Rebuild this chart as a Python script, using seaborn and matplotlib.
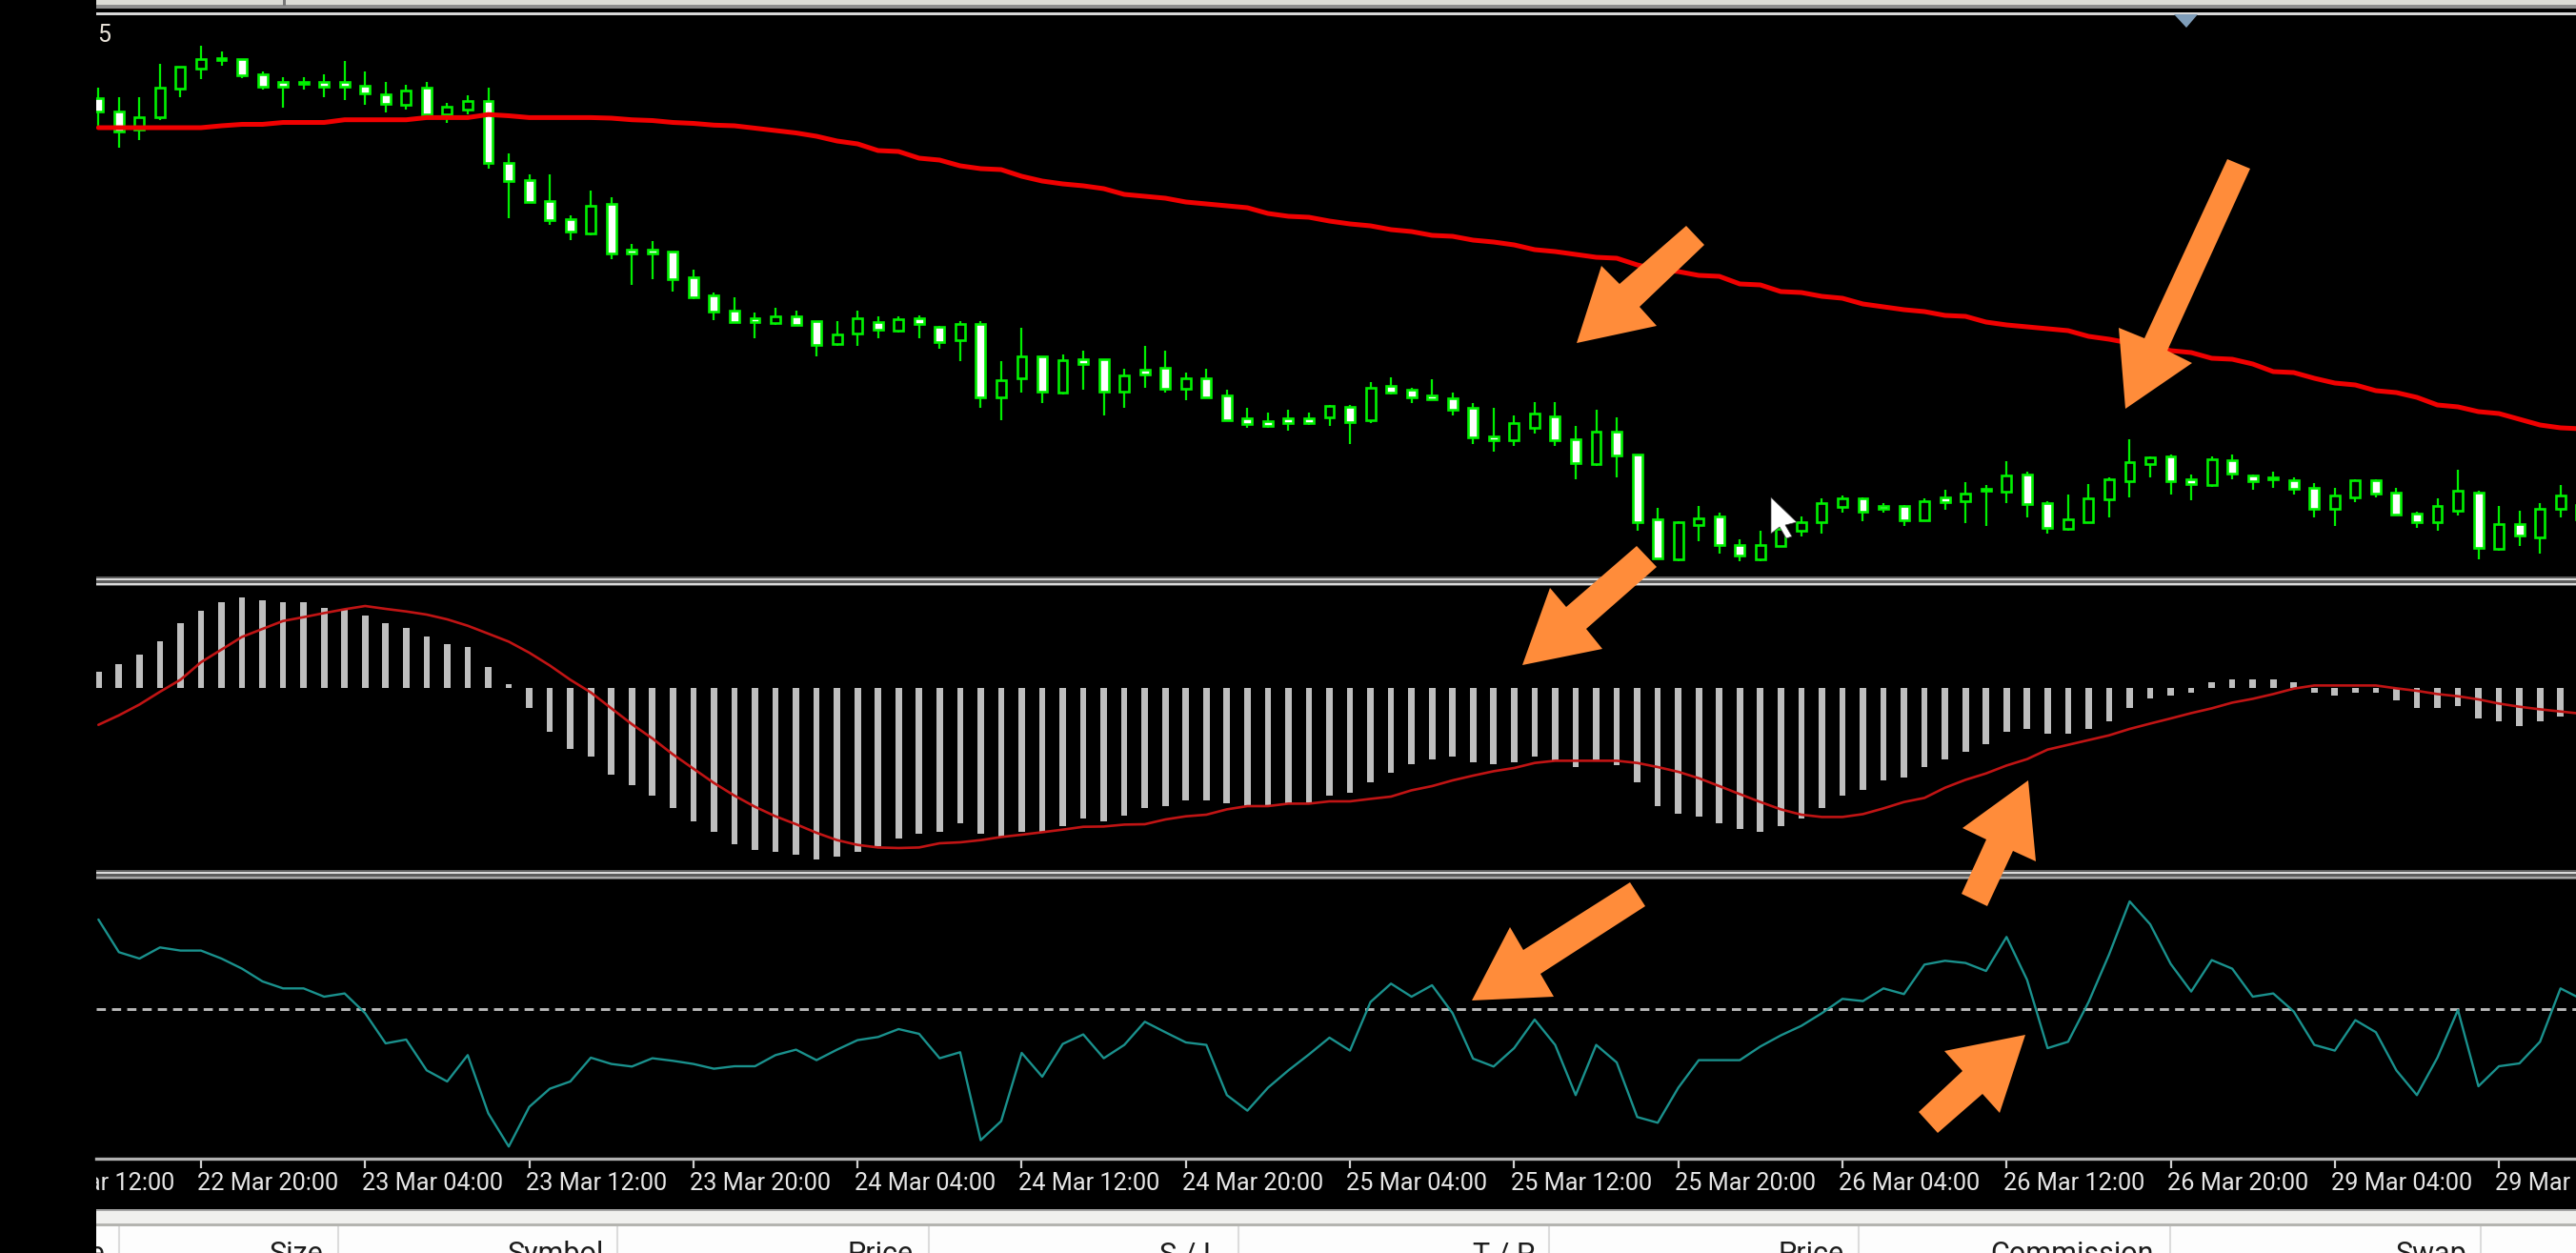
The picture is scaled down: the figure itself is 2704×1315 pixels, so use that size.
import numpy as np
import matplotlib
matplotlib.use("Agg")
import matplotlib.pyplot as plt
from matplotlib.patches import Polygon, Rectangle
import seaborn as sns

sns.set_theme(style="dark")
plt.rcParams["font.family"] = ["Roboto", "DejaVu Sans"]

W, H = 2704, 1315

# ---- price panel values: drop below the panel's reference level
candle_high = [92,102,102,67,70,48,54,62,75,81,81,78,64,75,86,89,86,108,100,92,161,183,183,226,200,207,256,253,264,283,
               307,312,328,323,326,337,337,326,332,332,331,342,337,337,379,344,374,372,368,377,387,363,368,391,387,409,428,433,430,433,
               425,425,401,396,407,398,412,423,428,436,422,422,447,430,438,477,533,547,531,538,566,557,553,542,523,520,522,528,530,523,
               514,506,509,484,495,526,519,508,501,461,479,477,498,479,477,498,495,501,507,512,503,503,512,537,523,493,515,531,536,528,509,520]
candle_top = [103,117,123,92,70,62,61,62,78,86,86,86,86,90,99,95,92,112,106,106,171,189,211,230,216,214,262,262,264,291,
              310,326,334,332,332,337,351,334,338,335,334,343,340,340,399,374,374,378,377,377,394,388,386,397,397,415,439,442,439,439,
              426,427,407,405,409,415,418,428,458,444,434,437,461,453,453,477,545,548,544,542,572,572,555,548,528,523,523,531,531,526,
              522,518,513,499,498,528,545,523,503,485,480,479,503,482,483,499,501,504,512,520,504,504,517,539,531,515,517,550,550,534,520,530]
candle_bottom = [117,138,136,123,93,72,63,79,91,91,88,91,91,98,109,110,120,120,115,171,190,212,231,243,245,266,266,266,293,312,
                 327,338,338,339,341,362,361,350,346,347,340,359,357,417,417,397,411,412,382,411,411,393,408,408,417,441,445,447,444,444,
                 438,443,441,412,417,419,430,459,462,462,449,462,486,487,478,548,586,587,551,572,583,587,573,557,548,532,537,534,546,546,
                 527,526,515,516,529,554,555,548,524,505,487,505,508,509,497,505,503,513,534,534,522,518,540,548,548,536,575,576,562,564,534,545]
candle_low = [132,155,147,126,102,83,69,82,94,113,94,102,105,110,118,115,120,129,120,177,229,212,236,252,247,272,299,293,306,314,
              336,339,355,341,341,374,363,363,355,349,355,366,379,428,441,412,423,414,409,436,428,407,412,420,417,441,449,449,452,446,
              447,466,444,414,423,420,436,466,474,468,455,468,503,489,501,557,586,589,568,581,589,589,573,563,560,538,547,538,552,546,
              535,549,552,528,543,560,557,549,543,522,501,519,525,511,503,514,512,519,543,552,527,522,541,554,557,541,587,578,573,581,543,550]
bullish_candles = [2,3,4,5,15,17,18,24,33,36,37,39,42,44,45,47,50,53,60,62,69,70,73,77,78,81,82,83,84,85,89,91,93,96,97,98,99,100,
                   103,109,110,114,115,117,119,120,121]
moving_average = [134,134,134,134,134,134,132,130.5,130.5,128.5,128.5,128.5,125.7,125.7,125.7,125.7,123.4,123.4,123.4,120.2,
                  121.5,123.4,123.4,123.4,123.4,124,125.7,126.5,128.5,129.5,131.3,132,134.5,137,139.5,143,148,151,158,159,
                  166,168,174,177,178,185,190,193,195,198,204,206,208,212,214,216,218,224,227,228,
                  232,235,237,241,243,247,248,252,254,257,262,264,267,270,271,278,283,285,289,290,
                  298,299,306,307,311,313,319,322,325,327,331,332,338,341,343,345,347,353,356,360,
                  363,368,370,376,377,382,390,391,397,402,404,410,412,417,425,427,432,434,440,446,449,450]

# ---- MACD panel values
macd_bars = [16.7,24.3,35,48.3,67.7,81,89.3,94.3,91.7,89.3,89.3,84,81.7,75.7,67.7,62.3,54,45.7,43,21.7,3.3,
             -21.7,-46,-64.3,-72.7,-91,-102.3,-113.3,-126.7,-140,-151,-164.3,-170,-172.3,-175,-180,-177.7,-172.3,-166.7,-158.3,-153.3,-151,
             -142.7,-153.3,-156.7,-151,-151,-145.7,-137.7,-140,-134.3,-126.7,-124,-118.3,-118.3,-121,-124.3,-125,-121,-121,-113.3,-110.7,
             -99.3,-89,-80.7,-75.7,-72.7,-78.3,-80.7,-78.3,-72.7,-76.7,-83.3,-76.7,-81,-99.3,-124,-132.3,-135,-142.7,-148.3,-151,-145.7,
             -137.7,-126.7,-113.3,-107.7,-97.3,-94.3,-83.3,-75.7,-67.3,-59.3,-46,-43.3,-48.3,-48.3,-43.3,-35,-21.7,-11,-8.3,-5.7,
             5.7,8.3,8.3,8.3,5.7,-5.7,-8.3,-5.7,-5.7,-13.3,-21.7,-21.7,-19,-32.3,-35,-40.7,-35,-30]
macd_signal = [-39,-29,-17.7,-4.3,8.3,26.7,40,53.3,61.7,70,74,78.3,82.3,85.7,82.7,80,76.7,71.7,65,56.7,48.3,36.7,23.3,8.3,-5,
               -21.7,-38.3,-53.3,-70,-85,-100,-113.3,-125,-135,-143.3,-152.3,-160,-165,-167.7,-168.3,-167.7,-163.3,
               -162.3,-160,-156.7,-154.3,-151.7,-149,-146,-145.7,-143.7,-143.3,-138.3,-135,-133.3,-127.7,-124.3,-124.3,-121.7,-121.7,-119.3,-119.3,
               -116.7,-114.3,-107.7,-103.3,-97.3,-92.3,-87.7,-84.3,-79,-76.7,-76.7,-76.7,-76.7,-79,-83.3,-88.3,-95,-103.3,-111.7,-120,-127.7,-133.3,
               -135.7,-135.7,-132.7,-126.7,-120,-115.7,-105,-96.7,-90,-81.7,-75,-65,-60,-55,-50,-43.3,-37.7,-32.3,-26.7,-21.7,-15.7,-11.7,-6.7,-1,
               2.3,2.3,2.3,2.3,-0.7,-3.3,-6.7,-9,-12.3,-16.7,-20,-22.7,-25,-27.3]

# ---- oscillator values, relative to the dashed level
oscillator = [94.3,60,53.3,65,61.7,61.7,53.3,42.7,29.3,22,22,13.3,16.7,-4,-35.7,-31.7,-64,-75.7,-48,-109,-144,-102.3,-83.3,-75.7,
              -50.7,-57.3,-60,-51.3,-54,-57.3,-62.3,-59.7,-59.7,-48,-42.3,-53.3,-42.3,-32.3,-29,-20.7,-25.7,-51.3,
              -45,-137.3,-117.3,-45.7,-70.7,-36.3,-26.3,-51.3,-37.3,-13,-24,-34.7,-37.3,-90,-106.3,-82.3,-64,-47.3,-29.7,-43.3,
              7.7,27,13.3,25.3,-4,-51.7,-60,-40.7,-10.7,-37.3,-90,-37.3,-55.7,-113,-119,-82.3,-53.3,-53.3,-53.3,-39,-27.3,-17.3,
              -4,11,8.7,22,16,47,51,48.7,40.3,76,31,-40.7,-34,7.7,57.7,113.3,89.3,47.7,18.7,51.7,42.7,13.3,16.7,-2.3,
              -37.3,-43.3,-11.3,-24,-64,-90,-50.7,-0.7,-80.7,-59.7,-56.7,-34,22,11]
oscillator_level = 0

# ---- axis and table labels
tick_bars = [-3,5,13,21,29,37,45,53,61,69,77,85,93,101,109,117]
tick_labels = ["22 Mar 12:00","22 Mar 20:00","23 Mar 04:00","23 Mar 12:00","23 Mar 20:00","24 Mar 04:00","24 Mar 12:00",
               "24 Mar 20:00","25 Mar 04:00","25 Mar 12:00","25 Mar 20:00","26 Mar 04:00","26 Mar 12:00","26 Mar 20:00",
               "29 Mar 04:00","29 Mar 12:00"]
table_headers = ["Type","Size","Symbol","Price","S / L","T / P","Price","Commission","Swap"]

# ---- layout (pixels)
LEFT = 101
BAR0, BAR_STEP = 103.3, 21.537
XLIM = ((LEFT - BAR0) / BAR_STEP, (W - BAR0) / BAR_STEP)
GREEN, RED, SIGNAL, TEAL, BAR_GREY = "#00f000", "#f00000", "#c01414", "#1a918d", "#bebebe"
ORANGE = "#ff8c3a"


def panel(y0, y1, zorder=1):
    ax = fig.add_axes([LEFT / W, 1 - y1 / H, (W - LEFT) / W, (y1 - y0) / H], facecolor="black", zorder=zorder)
    return ax


def bare(ax):
    ax.set_xlim(*XLIM)
    ax.set_xticks([])
    ax.set_yticks([])
    ax.set_xlabel("")
    ax.set_ylabel("")
    ax.grid(False)
    for s in ax.spines.values():
        s.set_visible(False)


fig = plt.figure(figsize=(W / 100, H / 100), dpi=100, facecolor="black")

# price panel
ax_p = panel(17, 605)
n = len(candle_high)
idx = np.arange(n)
hi, top, bot, lo = map(np.array, (candle_high, candle_top, candle_bottom, candle_low))
up = np.isin(idx, bullish_candles)
ax_p.vlines(idx, hi, lo, color=GREEN, linewidth=1.6, zorder=2)
ax_p.bar(idx, bot - top, bottom=top, width=0.46, color=np.where(up, "black", "white"),
         edgecolor=GREEN, linewidth=1.9, zorder=3)
sns.lineplot(x=idx, y=moving_average, ax=ax_p, color=RED, linewidth=3.6, estimator=None, legend=False, zorder=4)
ax_p.set_ylim(605, 17)
bare(ax_p)

# MACD panel
ax_m = panel(615, 913)
sns.barplot(x=np.arange(len(macd_bars)), y=macd_bars, ax=ax_m, native_scale=True, color=BAR_GREY, saturation=1,
            width=0.31, errorbar=None, legend=False, linewidth=0, zorder=2)
sns.lineplot(x=np.arange(len(macd_signal)), y=macd_signal, ax=ax_m, color=SIGNAL, linewidth=1.9, estimator=None,
             legend=False, zorder=3)
ax_m.set_ylim(721.7 - 913, 721.7 - 615)
bare(ax_m)

# oscillator panel
ax_o = panel(922, 1215)
ax_o.axhline(oscillator_level, color="#b8b8b8", linewidth=2.1, dashes=(3.3, 2.2), zorder=2)
sns.lineplot(x=np.arange(len(oscillator)), y=oscillator, ax=ax_o, color=TEAL, linewidth=1.7, estimator=None,
             legend=False, zorder=3)
ax_o.set_ylim(1059.3 - 1215, 1059.3 - 922)
bare(ax_o)

# time axis strip
ax_t = panel(1216, 1270)
bare(ax_t)
ax_t.spines["top"].set_visible(True)
ax_t.spines["top"].set_color("#b0b0b0")
ax_t.spines["top"].set_linewidth(2.4)
ax_t.xaxis.tick_top()
ax_t.set_xticks([b for b in tick_bars if b >= 0])
ax_t.tick_params(axis="x", top=True, bottom=False, labeltop=False, direction="in", length=7, width=1.6, color="#d0d0d0")
ax_t.set_xlim(*XLIM)
for b, lab in zip(tick_bars, tick_labels):
    ax_t.text(b - 0.17, 0.52, lab, color="#e6e6e6", fontsize=18.2, va="center", ha="left", clip_on=True,
              transform=ax_t.get_xaxis_transform())

# table header, its texts cut by the frame as in the window
ax_h = panel(1287, H, zorder=2)
ax_h.set_facecolor("#fdfdfd")
ax_h.set_xlim(LEFT, W)
ax_h.set_ylim(H, 1287)
ax_h.set_xticks([])
ax_h.set_yticks([])
ax_h.grid(False)
for s in ax_h.spines.values():
    s.set_visible(False)
ax_h.vlines([125, 355, 648, 975, 1300, 1626, 1951, 2278, 2604], 1287, H, color="#dcdcdc", linewidth=1.5)
for lab, x in zip(table_headers, (110, 340, 634, 959, 1279, 1611, 1936, 2261, 2589)):
    ax_h.text(x, 1302, lab, color="#1c1c1c", fontsize=22, ha="right", va="top", clip_on=True)

# overlay in pixel coordinates for window chrome, drawn arrows and the pointer
ov = fig.add_axes([0, 0, 1, 1], facecolor="none", zorder=10)
ov.set_xlim(0, W)
ov.set_ylim(H, 0)
ov.axis("off")


def rect(x0, y0, x1, y1, c):
    ov.add_patch(Rectangle((x0, y0), x1 - x0, y1 - y0, facecolor=c, edgecolor="none"))


# top chrome
rect(LEFT, 0, W, 5, "#dcdcd6")
rect(LEFT, 5, W, 9, "#8e8e8e")
rect(LEFT, 13, W, 16, "#d8d8d8")
rect(297, 0, 300, 6, "#777777")
# panel separators
for y in (605, 913):
    rect(LEFT, y, W, y + 10, "#5c5c5c")
    rect(LEFT, y + 1.5, W, y + 3.5, "#dadada")
    rect(LEFT, y + 7, W, y + 9, "#dadada")
rect(LEFT, 920, W, 922, "#a8a8a8")
# table header band
rect(LEFT, 1270, W, 1285, "#f0f0ee")
rect(LEFT, 1269, W, 1271, "#a6a6a6")
rect(LEFT, 1284, W, 1287, "#b4b4b0")

# clipped price label at the top left of the chart
ov.text(LEFT + 1, 37, "5", color="#e8e2d8", fontsize=18, ha="left", va="center")

# chart-shift marker
ov.add_patch(Polygon([(2282, 15), (2307, 15), (2295, 29)], closed=True, facecolor="#7f9db9", edgecolor="none"))

# hand-drawn orange arrows
arrows = [
    [(1655, 360), (1681, 279), (1700, 298), (1770, 237), (1789, 257), (1721, 322), (1739, 342)],
    [(2231, 429), (2301, 381), (2275, 368), (2362, 177), (2338, 167), (2251, 355), (2224, 344)],
    [(1598, 698), (1627, 617), (1644, 637), (1718, 573), (1739, 595), (1665, 660), (1682, 681)],
    [(2129, 819), (2137, 904), (2113, 893), (2086, 951), (2059, 938), (2085, 881), (2060, 869)],
    [(1545, 1050), (1585, 973), (1599, 997), (1711, 926), (1727, 951), (1617, 1022), (1631, 1046)],
    [(2126, 1086), (2041, 1103), (2060, 1124), (2014, 1167), (2034, 1189), (2081, 1148), (2099, 1168)],
]
for pts in arrows:
    ov.add_patch(Polygon(pts, closed=True, facecolor=ORANGE, edgecolor="none", zorder=5))

# mouse pointer
ov.add_patch(Polygon([(1859, 522), (1859, 560), (1868, 553), (1875, 565), (1881, 563), (1874, 551), (1886, 548)],
                     closed=True, facecolor="white", edgecolor="#444444", linewidth=0.5, zorder=6))

fig.savefig("out.png", dpi=100, facecolor="black")
